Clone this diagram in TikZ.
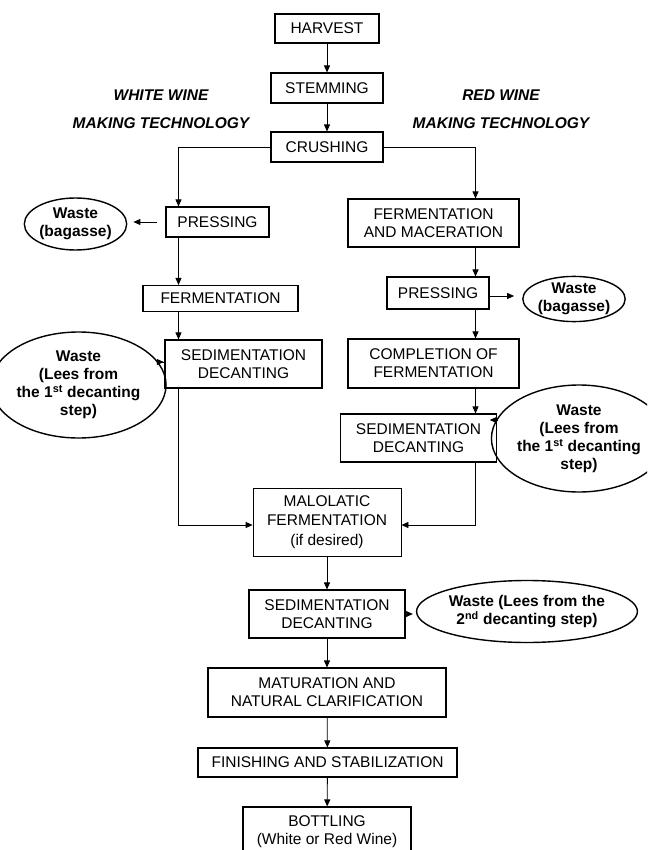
\documentclass[tikz,border=0pt]{standalone}
\usepackage{fontspec}
\setmainfont{Liberation Sans}
\usetikzlibrary{arrows.meta,shapes.geometric}
\begin{document}
\begin{tikzpicture}[x=1pt,y=-1pt,
  box/.style={draw,line width=1.1pt,inner sep=0pt,align=center,font=\fontsize{15.5}{18}\selectfont},
  waste/.style={draw,ellipse,line width=1.4pt,inner sep=0pt,align=center,font=\fontsize{15.5}{18}\selectfont\bfseries},
  head/.style={font=\fontsize{15.5}{18}\selectfont\bfseries\itshape,inner sep=0pt},
  arr/.style={line width=0.8pt,-{Triangle[length=7pt,width=6pt]}},
  ln/.style={line width=0.8pt}]
\clip (0,0) rectangle (647,850);
\fill[white] (0,0) rectangle (647,850);
% headers
\node[head] (hw1) at (161,95) {WHITE WINE};
\node[head] (hw2) at (161,123) {MAKING TECHNOLOGY};
\node[head] (hr1) at (501,95) {RED WINE};
\node[head] (hr2) at (501,123) {MAKING TECHNOLOGY};
% main column
\node[box,minimum width=104pt,minimum height=29pt] (harv) at (327,28.5) {HARVEST};
\node[box,minimum width=112pt,minimum height=30pt] (stem) at (327,88) {STEMMING};
\node[box,minimum width=112pt,minimum height=30pt] (crush) at (327,147) {CRUSHING};
% white column
\node[box,minimum width=103pt,minimum height=30pt] (pressW) at (217.5,222) {PRESSING};
\node[box,minimum width=155pt,minimum height=26pt] (fermW) at (220.5,298.5) {FERMENTATION};
\node[box,minimum width=157pt,minimum height=48pt] (sedW) at (243.5,364) {SEDIMENTATION\\DECANTING};
% red column
\node[box,minimum width=171pt,minimum height=48pt] (fmac) at (433.5,223) {FERMENTATION\\AND MACERATION};
\node[box,minimum width=102pt,minimum height=32pt] (pressR) at (438,293) {PRESSING};
\node[box,minimum width=171pt,minimum height=49pt] (compl) at (433.5,363.5) {COMPLETION OF\\FERMENTATION};
\node[box,minimum width=156pt,minimum height=48pt] (sedR) at (418.5,438) {SEDIMENTATION\\DECANTING};
% lower column
\node[box,line width=0.8pt,minimum width=148pt,minimum height=68pt,font=\fontsize{15.5}{19.5}\selectfont] (malo) at (327,522) {MALOLATIC\\FERMENTATION\\(if desired)};
\node[box,minimum width=156pt,minimum height=48pt] (sed2) at (327,614) {SEDIMENTATION\\DECANTING};
\node[box,minimum width=238pt,minimum height=49pt] (mat) at (327,692.5) {MATURATION AND\\NATURAL CLARIFICATION};
\node[box,minimum width=259pt,minimum height=29pt] (fin) at (327.5,762.5) {FINISHING AND STABILIZATION};
\node[box,minimum width=168pt,minimum height=50pt] (bott) at (327,832) {BOTTLING\\(White or Red Wine)};
% waste ellipses
\node[waste,minimum width=97pt,minimum height=52pt] (bagL) at (75.5,224) {Waste\\(bagasse)};
\node[waste,minimum width=143pt,minimum height=106pt] (leesL) at (78.5,385) {Waste\\(Lees from\\the 1\textsuperscript{st} decanting\\step)};
\node[waste,minimum width=100pt,minimum height=44pt] (bagR) at (574,299) {Waste\\(bagasse)};
\node[waste,minimum width=136pt,minimum height=107pt] (leesR) at (579,438.5) {Waste\\(Lees from\\the 1\textsuperscript{st} decanting\\step)};
\node[waste,minimum width=188pt,minimum height=62pt] (w2) at (527,611.5) {Waste (Lees from the\\2\textsuperscript{nd} decanting step)};
% coordinates
\coordinate (wx) at (178.5,0);
\coordinate (rx) at (475.5,0);
\coordinate (mj) at (0,525);
% connectors main
\draw[arr] (harv) -- (stem);
\draw[arr] (stem) -- (crush);
\draw[arr] (crush.west) -| (wx |- pressW.north);
\draw[arr] (crush.east) -| (rx |- fmac.north);
% white
\draw[arr] (wx |- pressW.south) -- (wx |- fermW.north);
\draw[arr] (wx |- fermW.south) -- (wx |- sedW.north);
\draw[arr] (wx |- sedW.south) -- (wx |- mj) -- (malo.west |- mj);
% red
\draw[arr] (rx |- fmac.south) -- (rx |- pressR.north);
\draw[arr] (rx |- pressR.south) -- (rx |- compl.north);
\draw[arr] (rx |- compl.south) -- (rx |- sedR.north);
\draw[arr] (rx |- sedR.south) -- (rx |- mj) -- (malo.east |- mj);
% lower
\draw[arr] (malo) -- (sed2);
\draw[arr] (sed2) -- (mat);
\draw[arr] (mat) -- (fin);
\draw[arr] (fin) -- (bott);
% waste arrows
\draw[arr,shorten <=8pt,shorten >=6pt] (pressW.west) -- (pressW.west -| bagL.east);
\draw[arr,shorten >=3pt] ([yshift=2pt]sedW.west) -- ([yshift=2pt]sedW.west -| leesL.east);
\draw[arr,shorten >=8pt] ([yshift=-3pt]pressR.east) -- ([yshift=-3pt]pressR.east -| bagR.west);
\draw[arr,shorten >=-1pt] ([yshift=18pt]sedR.east) -- ([yshift=18pt]sedR.east -| leesR.west);
\draw[arr,shorten <=4pt,shorten >=3pt] (sed2.east) -- (sed2.east -| w2.west);
\end{tikzpicture}
\end{document}
